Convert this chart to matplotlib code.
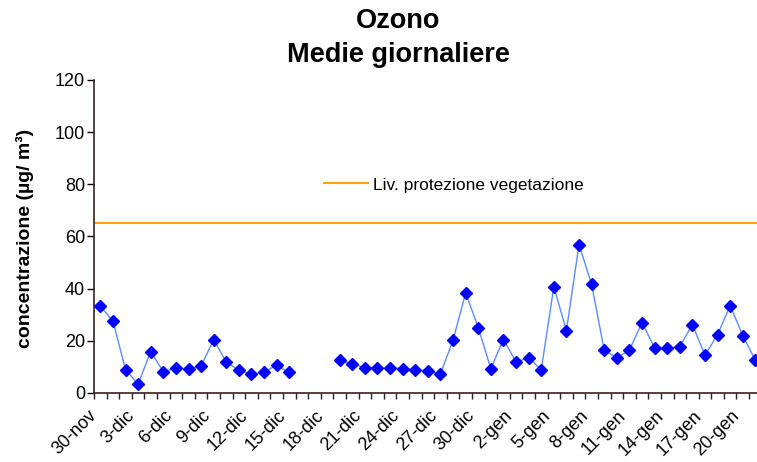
import numpy as np
import matplotlib.pyplot as plt

# --- dati: medie giornaliere ozono, 30-nov .. 21-gen ---
giorni = (["30-nov"] + [f"{d}-dic" for d in range(1, 32)]
          + [f"{d}-gen" for d in range(1, 22)])
ozono = [33.3, 27.6, 9.0, 3.4, 15.9, 8.1, 9.5, 9.3, 10.3, 20.5,
         11.8, 8.7, 7.1, 8.1, 10.6, 7.9, np.nan, np.nan, np.nan, 12.6,
         11.1, 9.7, 9.4, 9.7, 9.3, 9.0, 8.4, 7.4, 20.2, 38.4,
         25.1, 9.3, 20.5, 11.9, 13.5, 8.9, 40.7, 23.9, 56.9, 41.6,
         16.4, 13.5, 16.4, 27.0, 17.3, 17.1, 17.8, 26.2, 14.5, 22.4,
         33.5, 22.0, 12.5]
soglia_vegetazione = 65
yticks = [0, 20, 40, 60, 80, 100, 120]

plt.rcParams['font.family'] = ['Liberation Sans', 'DejaVu Sans']

fig = plt.figure(figsize=(7.57, 4.62), dpi=100)
ax = fig.add_axes([0.1242, 0.1494, 0.882, 0.6775])

x = np.arange(len(giorni))
ax.plot(x, ozono, color='#5b8cff', lw=1.0, marker='D', ms=6.5,
        mfc='#0000ff', mec='#0000ff', zorder=3)
ax.axhline(soglia_vegetazione, color='#ffa500', lw=1.5,
           label='Liv. protezione vegetazione')

ax.set_xlim(-0.5, len(giorni) - 0.5)
ax.set_ylim(0, 120)
ax.set_yticks(yticks)

# tacche ai confini delle categorie, etichette ogni 3 giorni
ax.set_xticks(np.arange(len(giorni) + 1) - 0.5)
etichette = [giorni[i] if (i < len(giorni) and i % 3 == 0) else ''
             for i in range(len(giorni) + 1)]
ax.set_xticklabels(etichette, rotation=45, ha='right', va='center',
                   rotation_mode='anchor', fontsize=13)
ax.tick_params(axis='x', length=4, width=1, color='#222222', pad=10.5)
ax.tick_params(axis='y', length=5, width=1, labelsize=13, pad=1.5)

for s in ['top', 'right']:
    ax.spines[s].set_visible(False)
for s in ['left', 'bottom']:
    ax.spines[s].set_color('#3a1f1f')
    ax.spines[s].set_linewidth(1.2)

fig.text(25 / 757, 0.483, 'concentrazione (µg/ m³)', rotation=90,
         ha='center', va='center', fontsize=14, fontweight='bold')
fig.text(0.526, 1 - 28 / 462, 'Ozono', ha='center', va='baseline',
         fontsize=19.5, fontweight='bold')
fig.text(0.526, 1 - 62 / 462, 'Medie giornaliere', ha='center',
         va='baseline', fontsize=19.5, fontweight='bold')

ax.legend(loc='center left', bbox_to_anchor=(0.3444, 0.6645), frameon=False,
          fontsize=12.5, handlelength=2.53, handletextpad=0.29,
          borderpad=0, borderaxespad=0)

fig.savefig('out.png', dpi=100)
